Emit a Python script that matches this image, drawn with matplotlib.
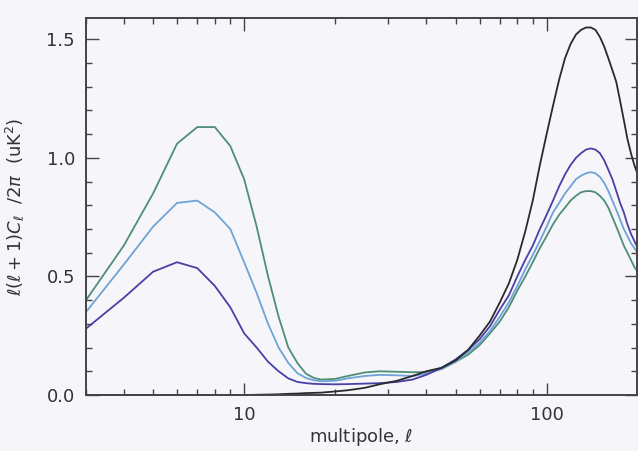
import matplotlib
matplotlib.use("Agg")
import matplotlib.pyplot as plt
from matplotlib.ticker import FixedLocator, NullFormatter, FixedFormatter

plt.rcParams['mathtext.fontset'] = 'dejavusans'

ell = [3, 4, 5, 6, 7, 8, 9, 10, 11, 12, 13, 14, 15, 16, 17, 18, 20, 22, 25, 28,
       32, 36, 40, 45, 50, 55, 60, 65, 70, 75, 80, 85, 90, 95, 100, 105, 110, 115,
       120, 125, 130, 135, 140, 145, 150, 155, 160, 165, 170, 175, 180, 185, 190, 195, 200]

green = [0.40, 0.63, 0.85, 1.06, 1.13, 1.13, 1.05, 0.91, 0.71, 0.50, 0.33, 0.20, 0.135,
         0.09, 0.072, 0.065, 0.068, 0.08, 0.095, 0.10, 0.098, 0.096, 0.097, 0.11, 0.14,
         0.17, 0.21, 0.26, 0.31, 0.37, 0.44, 0.50, 0.56, 0.62, 0.67, 0.72, 0.76, 0.79,
         0.82, 0.84, 0.855, 0.86, 0.86, 0.855, 0.84, 0.82, 0.79, 0.75, 0.71, 0.67, 0.63,
         0.60, 0.57, 0.54, 0.52]

lightblue = [0.35, 0.55, 0.71, 0.81, 0.82, 0.77, 0.70, 0.56, 0.43, 0.30, 0.20, 0.135,
             0.092, 0.072, 0.062, 0.058, 0.06, 0.07, 0.08, 0.085, 0.083, 0.08, 0.09,
             0.11, 0.14, 0.18, 0.22, 0.27, 0.33, 0.39, 0.46, 0.53, 0.59, 0.65, 0.71,
             0.77, 0.81, 0.85, 0.88, 0.91, 0.925, 0.935, 0.94, 0.935, 0.92, 0.895, 0.86,
             0.82, 0.78, 0.74, 0.70, 0.67, 0.64, 0.62, 0.60]

purple = [0.28, 0.41, 0.52, 0.56, 0.535, 0.46, 0.37, 0.26, 0.20, 0.14, 0.10, 0.07,
          0.055, 0.05, 0.047, 0.046, 0.045, 0.046, 0.048, 0.05, 0.055, 0.065, 0.085,
          0.115, 0.15, 0.19, 0.235, 0.29, 0.36, 0.42, 0.50, 0.57, 0.63, 0.70, 0.76,
          0.82, 0.88, 0.93, 0.97, 1.00, 1.02, 1.035, 1.04, 1.035, 1.02, 0.99, 0.95,
          0.91, 0.86, 0.81, 0.77, 0.72, 0.68, 0.65, 0.62]

black = [0.0, 0.0, 0.0, 0.0, 0.0, 0.0, 0.0, 0.0, 0.001, 0.002, 0.003, 0.005, 0.006,
         0.008, 0.009, 0.01, 0.015, 0.02, 0.03, 0.045, 0.06, 0.08, 0.10, 0.115, 0.145,
         0.19, 0.25, 0.31, 0.39, 0.47, 0.57, 0.69, 0.82, 0.97, 1.10, 1.22, 1.33, 1.42,
         1.48, 1.52, 1.54, 1.55, 1.55, 1.54, 1.51, 1.47, 1.42, 1.37, 1.32, 1.24, 1.16,
         1.08, 1.02, 0.97, 0.93]

series = [("green", green, "#4f8e76"), ("lightblue", lightblue, "#6ea3d6"),
          ("purple", purple, "#4a3fa6"), ("black", black, "#2a2a2a")]

xticks = [10, 100]
xticklabels = ["10", "100"]
yticks = [0.0, 0.5, 1.0, 1.5]
yticklabels = ["0.0", "0.5", "1.0", "1.5"]

fig = plt.figure(figsize=(6.38, 4.51), dpi=100)
bg = "#f6f5fa"
fig.patch.set_facecolor(bg)
ax = fig.add_axes([86/638, 1-395/451, (637-86)/638, (395-18)/451])
ax.set_facecolor(bg)

for name, vals, col in series:
    ax.plot(ell, vals, color=col, lw=1.3, solid_joinstyle='miter')

ax.set_xscale('log')
ax.set_xlim(3, 199)
ax.set_ylim(0, 1.59)

ax.xaxis.set_major_locator(FixedLocator(xticks))
ax.xaxis.set_major_formatter(FixedFormatter(xticklabels))
minors = [m * d for d in (1, 10, 100) for m in range(2, 10)]
ax.xaxis.set_minor_locator(FixedLocator(minors))
ax.xaxis.set_minor_formatter(NullFormatter())
ax.yaxis.set_major_locator(FixedLocator(yticks))
ax.yaxis.set_major_formatter(FixedFormatter(yticklabels))
ax.yaxis.set_minor_locator(FixedLocator([i / 10 for i in range(0, 16)]))

ax.tick_params(which='both', direction='in', top=True, right=True,
               colors='#444444', labelcolor='#333333', width=1.0)
ax.tick_params(which='major', length=9, labelsize=13, pad=8)
ax.tick_params(which='minor', length=4)

for s in ax.spines.values():
    s.set_color('#444444')
    s.set_linewidth(1.4)

ax.set_xlabel(r'multipole, $\ell$', fontsize=13, color='#333333', labelpad=1)
ax.set_ylabel(r'$\ell(\ell+1)C_\ell\ \ /2\pi\ \ $(uK$^2$)', fontsize=13,
              color='#333333', labelpad=14)

fig.savefig("out.png", dpi=100, facecolor=bg)
